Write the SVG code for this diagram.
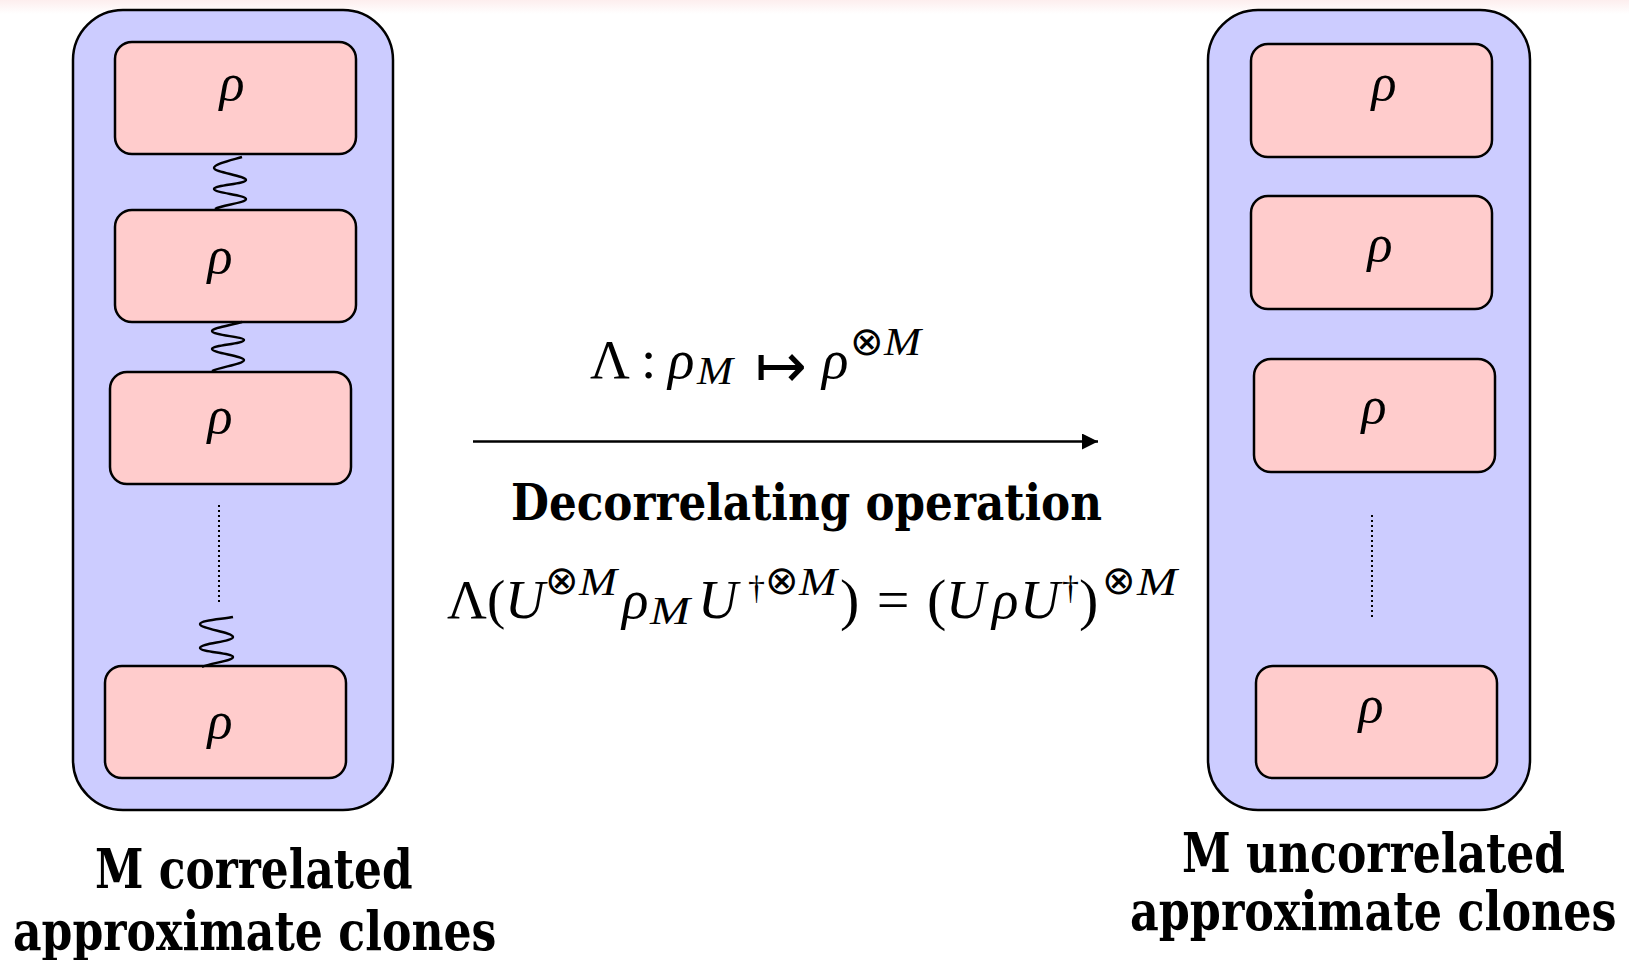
<svg xmlns="http://www.w3.org/2000/svg" width="1629" height="960" viewBox="0 0 1629 960">
<defs>
<linearGradient id="topband" x1="0" y1="0" x2="0" y2="1">
<stop offset="0" stop-color="#fdeeee"/>
<stop offset="1" stop-color="#ffffff"/>
</linearGradient>
<marker id="arrowhead" markerUnits="userSpaceOnUse" markerWidth="18" markerHeight="18" refX="16" refY="8" orient="auto">
<path d="M0,0 L16,8 L0,16 Z" fill="#000"/>
</marker>
<style>
.container{fill:#ccccff;stroke:#000;stroke-width:2.5}
.box{fill:#ffcccc;stroke:#000;stroke-width:2.5}
.spring{fill:none;stroke:#000;stroke-width:2.4;stroke-linejoin:round}
.dots{fill:none;stroke:#000;stroke-width:2;stroke-dasharray:2 3}
.rho{font-family:"Liberation Serif","DejaVu Serif",serif;font-style:italic;font-size:52px;fill:#000;text-anchor:middle}
.m{font-family:"Liberation Serif","DejaVu Serif",serif;font-size:55px;fill:#000}
.it{font-style:italic}
.sub{font-style:italic;font-size:40px}
.otimes{font-family:"DejaVu Sans",sans-serif;font-size:40px;font-weight:200}
.dag{font-size:34px}
.par{font-size:58px}
.label{font-family:"DejaVu Serif",serif;font-weight:bold;fill:#000}
</style>
</defs>
<rect x="0" y="0" width="1629" height="960" fill="#ffffff"/>
<rect x="0" y="0" width="1629" height="14" fill="url(#topband)"/>

<g id="left-group">
<rect class="container" x="73" y="10" width="320" height="800" rx="50" ry="50"/>
</g>
<g id="left-clone-1"><rect class="box" x="115" y="42" width="241" height="112" rx="17"/><text class="rho" x="232" y="100">ρ</text></g>
<g id="left-clone-2"><rect class="box" x="115" y="210" width="241" height="112" rx="17"/><text class="rho" x="220" y="273">ρ</text></g>
<g id="left-clone-3"><rect class="box" x="110" y="372" width="241" height="112" rx="17"/><text class="rho" x="220" y="433">ρ</text></g>
<g id="left-clone-4"><rect class="box" x="105" y="666" width="241" height="112" rx="17"/><text class="rho" x="220" y="738">ρ</text></g>

<g id="right-group">
<rect class="container" x="1208" y="10" width="322" height="800" rx="50" ry="50"/>
</g>
<g id="right-clone-1"><rect class="box" x="1251" y="44" width="241" height="113" rx="17"/><text class="rho" x="1384" y="100">ρ</text></g>
<g id="right-clone-2"><rect class="box" x="1251" y="196" width="241" height="113" rx="17"/><text class="rho" x="1380" y="261">ρ</text></g>
<g id="right-clone-3"><rect class="box" x="1254" y="359" width="241" height="113" rx="17"/><text class="rho" x="1374" y="423">ρ</text></g>
<g id="right-clone-4"><rect class="box" x="1256" y="666" width="241" height="112" rx="17"/><text class="rho" x="1371" y="722">ρ</text></g>

<g id="connectors">
<path class="spring" d="M242,157 C232,160 214,164 214,168 C214,172 246,176 246,180 C246,184 214,185 214,189 C214,193 246,195 246,199 C246,203 222,205 215,209"/>
<path class="spring" d="M242,322 C232,325 212,328 212,331 C212,335 244,337 244,340 C244,344 212,345 212,349 C212,353 244,356 244,360 C244,364 220,367 212,371"/>
<path class="spring" d="M233,617 C224,619 200,620 200,624 C200,629 233,632 233,637 C233,642 200,643 200,648 C200,652 233,653 233,657 C233,661 210,663 202,667"/>
<line class="dots" x1="219" y1="505" x2="219" y2="602"/>
<line class="dots" x1="1372" y1="515" x2="1372" y2="618"/>
<line x1="473" y1="441.5" x2="1098" y2="441.5" stroke="#000" stroke-width="2.5" marker-end="url(#arrowhead)"/>
</g>

<text id="map-formula" class="m"><tspan x="590" y="378">Λ</tspan><tspan x="641" y="378">:</tspan><tspan class="it" x="668" y="378">ρ</tspan><tspan class="sub" x="697" y="384" textLength="36" lengthAdjust="spacingAndGlyphs">M</tspan><tspan x="755" y="387" font-family="DejaVu Sans, sans-serif" font-weight="200" font-size="62">↦</tspan><tspan class="it" x="822" y="378">ρ</tspan><tspan class="otimes" x="850" y="355">⊗</tspan><tspan class="sub" x="884" y="355" textLength="37" lengthAdjust="spacingAndGlyphs">M</tspan></text>

<text id="operation-label" class="label" transform="translate(511,520) scale(0.79,1)" x="0" y="0" font-size="51" textLength="748" lengthAdjust="spacingAndGlyphs">Decorrelating operation</text>

<text id="covariance-formula" class="m"><tspan x="447" y="618">Λ(</tspan><tspan class="it" x="505" y="618">U</tspan><tspan class="otimes" x="545" y="594">⊗</tspan><tspan class="sub" x="579" y="595" textLength="38" lengthAdjust="spacingAndGlyphs">M</tspan><tspan class="it" x="622" y="618">ρ</tspan><tspan class="sub" x="650" y="624" textLength="40" lengthAdjust="spacingAndGlyphs">M</tspan><tspan class="it" x="698" y="618">U</tspan><tspan class="dag" x="748" y="599">†</tspan><tspan class="otimes" x="765" y="594">⊗</tspan><tspan class="sub" x="799" y="595" textLength="38" lengthAdjust="spacingAndGlyphs">M</tspan><tspan class="par" x="840" y="619" word-spacing="3">) = (</tspan><tspan class="it" x="946" y="618">U</tspan><tspan class="it" x="992" y="618">ρ</tspan><tspan class="it" x="1020" y="618">U</tspan><tspan class="dag" x="1062" y="599">†</tspan><tspan class="par" x="1079" y="619">)</tspan><tspan class="otimes" x="1102" y="594">⊗</tspan><tspan class="sub" x="1137" y="595" textLength="40" lengthAdjust="spacingAndGlyphs">M</tspan></text>

<g id="left-label">
<text class="label" transform="translate(95,888) scale(0.79,1)" x="0" y="0" font-size="54" textLength="402" lengthAdjust="spacingAndGlyphs">M correlated</text>
<text class="label" transform="translate(13,950) scale(0.79,1)" x="0" y="0" font-size="54" textLength="612" lengthAdjust="spacingAndGlyphs">approximate clones</text>
</g>
<g id="right-label">
<text class="label" transform="translate(1182,872) scale(0.79,1)" x="0" y="0" font-size="54" textLength="485" lengthAdjust="spacingAndGlyphs">M uncorrelated</text>
<text class="label" transform="translate(1130,930) scale(0.79,1)" x="0" y="0" font-size="54" textLength="616" lengthAdjust="spacingAndGlyphs">approximate clones</text>
</g>
</svg>
